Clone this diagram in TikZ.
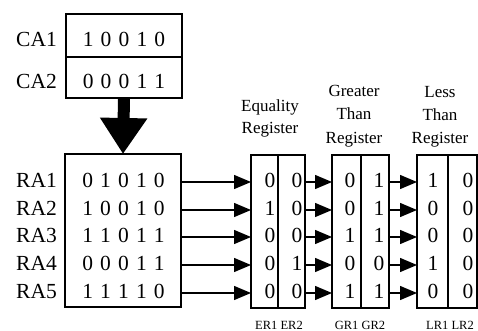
\documentclass[tikz,border=0pt]{standalone}
\usepackage{fontspec}
\setmainfont{Liberation Serif}
\usetikzlibrary{arrows.meta}
\newcommand\bitrow[5]{#1\hspace{7.15pt}#2\hspace{7.15pt}#3\hspace{7.15pt}#4\hspace{7.15pt}#5}
\begin{document}
\begin{tikzpicture}[x=1pt,y=-1pt,
  regbox/.style={draw, line width=1.4pt, inner sep=0pt, outer sep=0pt, anchor=north west},
  divline/.style={line width=1.4pt},
  conn/.style={line width=1.3pt, -{Triangle[length=17pt,width=14pt]}},
  bigarrow/.style={line width=12pt, -{Triangle[length=36pt,width=45pt]}},
  lab/.style={font=\fontsize{21.5}{24}\selectfont, inner sep=0pt, anchor=base east},
  bits/.style={font=\fontsize{21.5}{24}\selectfont, inner sep=0pt, anchor=base},
  hdr/.style={font=\fontsize{17}{20}\selectfont, inner sep=0pt, anchor=base},
  small/.style={font=\fontsize{12.5}{14}\selectfont, inner sep=0pt, anchor=base}]
\useasboundingbox (0,0) rectangle (478,331);

% CA box
\node[regbox, minimum width=116pt, minimum height=84pt] (CA) at (66,14) {};
\draw[divline] (CA.west |- 0,57) -- (CA.east |- 0,57);
\node[lab] (ca1l) at (57,47) {CA1};
\node[lab] (ca2l) at (57,89) {CA2};
\node[bits] (ca1b) at (124,47) {\bitrow10010};
\node[bits] (ca2b) at (124,89) {\bitrow00011};

% RA box
\node[regbox, minimum width=116pt, minimum height=153pt] (RA) at (65,154) {};
\draw[bigarrow] (CA.south) -- (RA.north);

% Register boxes
\node[regbox, minimum width=54pt, minimum height=153pt] (ER) at (251,155) {};
\draw[divline] (278,0 |- ER.north) -- (278,0 |- ER.south);
\node[regbox, minimum width=57pt, minimum height=153pt] (GR) at (332,155) {};
\draw[divline] (361,0 |- GR.north) -- (361,0 |- GR.south);
\node[regbox, minimum width=60pt, minimum height=153pt] (LR) at (417,155) {};
\draw[divline] (448,0 |- LR.north) -- (448,0 |- LR.south);

% headers
\node[hdr] (eq1) at (270,112) {Equality};
\node[hdr] (eq2) at (270,134) {Register};
\node[hdr] (gt1) at (354,97) {Greater};
\node[hdr] (gt2) at (354,120) {Than};
\node[hdr] (gt3) at (354,143) {Register};
\node[hdr] (lt1) at (440,98) {Less};
\node[hdr] (lt2) at (440,121) {Than};
\node[hdr] (lt3) at (440,143) {Register};

% bottom labels
\node[small] (erl) at (279,329) {ER1 ER2};
\node[small] (grl) at (360,329) {GR1 GR2};
\node[small] (lrl) at (450,329) {LR1 LR2};

% rows
\foreach \b/\lbl/\bt/\ea/\eb/\ga/\gb/\la/\lb [count=\i] in
  {187/RA1/{{0}{1}{0}{1}{0}}/0/0/0/1/1/0,
   215/RA2/{{1}{0}{0}{1}{0}}/1/0/0/1/0/0,
   242/RA3/{{1}{1}{0}{1}{1}}/0/0/1/1/0/0,
   270/RA4/{{0}{0}{0}{1}{1}}/0/1/0/0/1/0,
   298/RA5/{{1}{1}{1}{1}{0}}/0/0/1/1/0/0} {
  \node[lab] (ral\i) at (57,\b) {\lbl};
  \node[bits] (rab\i) at (123.5,\b) {\expandafter\bitrow\bt};
  \node[bits] (ea\i) at (270,\b) {\ea};
  \node[bits] (eb\i) at (297,\b) {\eb};
  \node[bits] (ga\i) at (350,\b) {\ga};
  \node[bits] (gb\i) at (379,\b) {\gb};
  \node[bits] (la\i) at (433,\b) {\la};
  \node[bits] (lb\i) at (468,\b) {\lb};
  \coordinate (row\i) at (0,\b-5);
  \draw[conn] (RA.east |- row\i) -- (ER.west |- row\i);
  \draw[conn] (ER.east |- row\i) -- (GR.west |- row\i);
  \draw[conn] (GR.east |- row\i) -- (LR.west |- row\i);
}
\end{tikzpicture}
\end{document}
